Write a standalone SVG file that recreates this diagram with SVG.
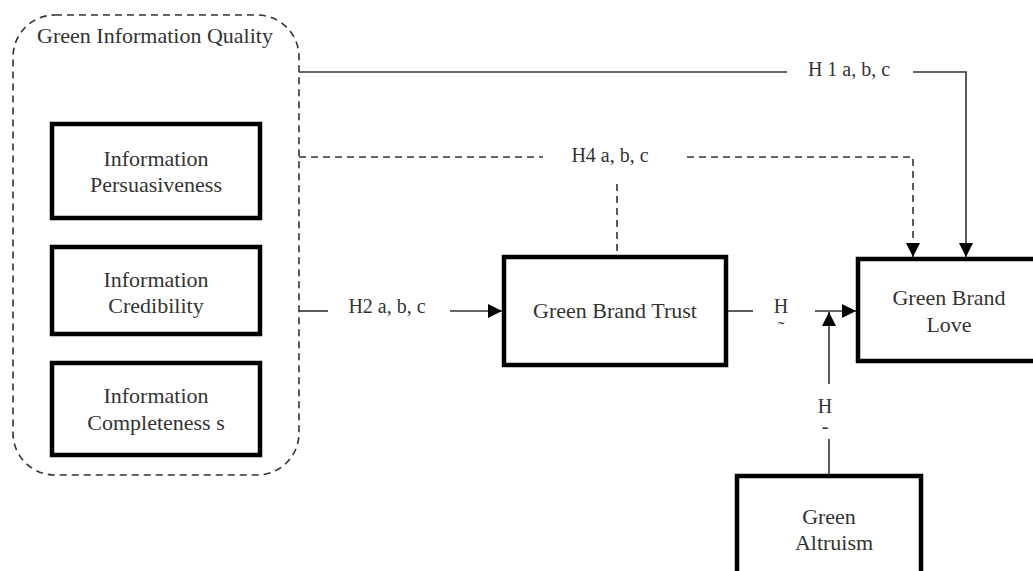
<svg xmlns="http://www.w3.org/2000/svg" width="1033" height="571" viewBox="0 0 1033 571">
<style>
text{font-family:"Liberation Serif","Times New Roman",serif;font-size:22px;fill:#333;text-anchor:middle}
.lbl{font-size:20px}
.box{fill:#fff;stroke:#000;stroke-width:4.5}
.ln{fill:none;stroke:#333;stroke-width:1.6}
.dash{fill:none;stroke:#333;stroke-width:1.6;stroke-dasharray:7 5}
</style>
<defs>
<marker id="ah" markerUnits="userSpaceOnUse" markerWidth="16" markerHeight="14" refX="14" refY="7" orient="auto">
<path d="M0,0 L14,7 L0,14 Z" fill="#000"/>
</marker>
</defs>
<g id="container">
<rect x="13" y="15" width="286" height="460" rx="42" fill="none" stroke="#333" stroke-width="1.6" stroke-dasharray="7 5"/>
<text x="155" y="43">Green Information Quality</text>
</g>
<g id="persuasiveness">
<rect class="box" x="52" y="124" width="208" height="94"/>
<text x="156" y="166">Information</text>
<text x="156" y="192">Persuasiveness</text>
</g>
<g id="credibility">
<rect class="box" x="52" y="247" width="208" height="87"/>
<text x="156" y="287">Information</text>
<text x="156" y="313">Credibility</text>
</g>
<g id="completeness">
<rect class="box" x="52" y="363" width="208" height="92"/>
<text x="156" y="403">Information</text>
<text x="156" y="430">Completeness s</text>
</g>
<g id="trust">
<rect class="box" x="504" y="257" width="222" height="108"/>
<text x="615" y="318">Green Brand Trust</text>
</g>
<g id="love">
<rect class="box" x="858" y="259" width="180" height="102"/>
<text x="949" y="305">Green Brand</text>
<text x="949" y="332">Love</text>
</g>
<g id="altruism">
<rect class="box" x="737" y="476" width="184" height="110"/>
<text x="829" y="524">Green</text>
<text x="834" y="550">Altruism</text>
</g>
<g id="connectors">
<path class="ln" d="M299,72 H787"/>
<path class="ln" d="M913,72 H966 V257" marker-end="url(#ah)"/>
<text class="lbl" x="849" y="76">H 1 a, b, c</text>
<path class="dash" d="M299,157 H543"/>
<path class="dash" d="M687,157 H913 V257" marker-end="url(#ah)"/>
<text class="lbl" x="610" y="162">H4 a, b, c</text>
<path class="dash" d="M617,184 V255"/>
<path class="ln" d="M299,311 H328"/>
<text class="lbl" x="387" y="313">H2 a, b, c</text>
<path class="ln" d="M450,311 H502" marker-end="url(#ah)"/>
<path class="ln" d="M728,311 H753"/>
<text class="lbl" x="781" y="313">H</text>
<text class="lbl" x="781" y="336">˜</text>
<path class="ln" d="M815,311 H856" marker-end="url(#ah)"/>
<path class="ln" d="M829,474 V439"/>
<text class="lbl" x="825" y="413">H</text>
<text class="lbl" x="825" y="433">-</text>
<path class="ln" d="M829,384 V312" marker-end="url(#ah)"/>
</g>
</svg>
